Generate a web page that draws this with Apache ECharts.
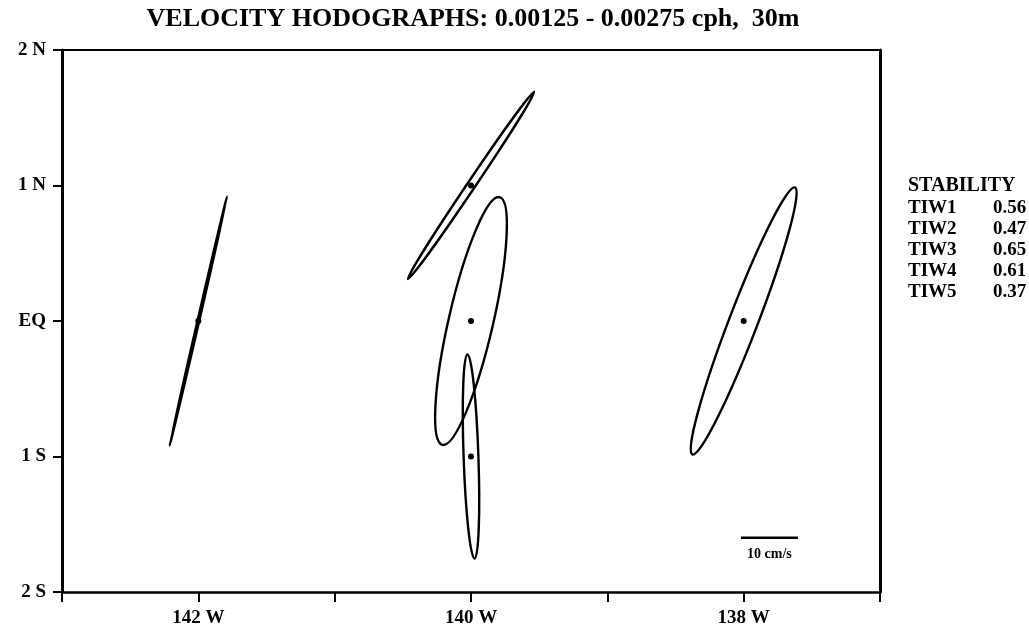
<!DOCTYPE html>
<html>
<head>
<meta charset="utf-8">
<script src="https://cdn.jsdelivr.net/npm/echarts@6/dist/echarts.min.js"></script>
<style>
  html, body { margin: 0; padding: 0; background: #fff; }
  #chart { width: 1029px; height: 629px; }
</style>
</head>
<body>
<div id="chart"></div>
<script>
// Mooring positions: longitude (negative = west) and latitude
const stationLon = [-142, -140, -140, -140, -138];
const stationLat = [0, 1, 0, -1, 0];
// Hodograph ellipses: semi-major / semi-minor axes (cm/s) and
// orientation of the major axis (degrees counter-clockwise from east)
const majorAxis = [22.5, 19.8, 22.3, 17.9, 25.1];
const minorAxis = [0.15, 0.7, 3.9, 1.3, 2.5];
const orientation = [77, 56, 77, 92, 69];

// Axis labels
const latLabels = { '2': '2 N', '1': '1 N', '0': 'EQ', '-1': '1 S', '-2': '2 S' };
const lonLabels = { '-142': '142 W', '-140': '140 W', '-138': '138 W' };

// Stability table
const tiwNames = ['TIW1', 'TIW2', 'TIW3', 'TIW4', 'TIW5'];
const stabilityValues = ['0.56', '0.47', '0.65', '0.61', '0.37'];

// Velocity scale bar
const scaleBarSpeed = 10;              // cm/s
const scaleBarAnchor = [-138.02, -1.6]; // left end of the bar (lon, lat)
const DEG_PER_CMS = 0.0418;            // plotting scale: 1 cm/s drawn as this many degrees

const FONT = 'Liberation Serif';
const chart = echarts.init(document.getElementById('chart'), null, { renderer: 'canvas' });

const axisLineStyle = { color: '#000', width: 2.5 };
const labelStyle = { color: '#000', fontFamily: FONT, fontWeight: 'bold', fontSize: 19 };

const legendFont = 'bold 19px ' + FONT;
const legendGraphics = [
  { type: 'text', x: 908, y: 186, style: { text: 'STABILITY', font: 'bold 20px ' + FONT, fill: '#000', verticalAlign: 'middle' } }
];
tiwNames.forEach((name, i) => {
  const y = 208 + i * 21;
  legendGraphics.push({ type: 'text', x: 908, y: y, style: { text: name, font: legendFont, fill: '#000', verticalAlign: 'middle' } });
  legendGraphics.push({ type: 'text', x: 993, y: y, style: { text: stabilityValues[i], font: legendFont, fill: '#000', verticalAlign: 'middle' } });
});

chart.setOption({
  animation: false,
  backgroundColor: '#fff',
  grid: { left: 62, right: 149, top: 50, bottom: 37, containLabel: false },
  graphic: [
    {
      type: 'text', x: 473, y: 19,
      style: {
        text: 'VELOCITY HODOGRAPHS: 0.00125 - 0.00275 cph,  30m',
        font: 'bold 26px ' + FONT, fill: '#000', align: 'center', verticalAlign: 'middle'
      }
    }
  ].concat(legendGraphics),
  xAxis: [
    {
      type: 'value', min: -143, max: -137, interval: 1, position: 'bottom',
      axisLine: { show: true, onZero: false, lineStyle: axisLineStyle },
      axisTick: { show: true, length: 10, lineStyle: { color: '#000', width: 2 } },
      axisLabel: Object.assign({ margin: 17, formatter: v => lonLabels[String(v)] || '' }, labelStyle),
      splitLine: { show: false }
    },
    {
      type: 'value', min: -143, max: -137, position: 'top',
      axisLine: { show: true, onZero: false, lineStyle: { color: '#000', width: 2 } },
      axisTick: { show: false }, axisLabel: { show: false }, splitLine: { show: false }
    }
  ],
  yAxis: [
    {
      type: 'value', min: -2, max: 2, interval: 1, position: 'left',
      axisLine: { show: true, onZero: false, lineStyle: { color: '#000', width: 3 } },
      axisTick: { show: true, length: 9, lineStyle: { color: '#000', width: 2 } },
      axisLabel: Object.assign({ margin: 16, formatter: v => latLabels[String(v)] || '' }, labelStyle),
      splitLine: { show: false }
    },
    {
      type: 'value', min: -2, max: 2, position: 'right',
      axisLine: { show: true, onZero: false, lineStyle: { color: '#000', width: 3 } },
      axisTick: { show: false }, axisLabel: { show: false }, splitLine: { show: false }
    }
  ],
  series: [
    {
      // velocity hodograph ellipses around each mooring
      type: 'custom',
      coordinateSystem: 'cartesian2d',
      data: stationLon.map((lon, i) => [lon, stationLat[i], majorAxis[i], minorAxis[i], orientation[i]]),
      renderItem: function (params, api) {
        const c = api.coord([api.value(0), api.value(1)]);
        const pxPerCms = api.size([DEG_PER_CMS, 0])[0];
        return {
          type: 'ellipse',
          x: c[0], y: c[1],
          rotation: api.value(4) * Math.PI / 180,
          shape: { cx: 0, cy: 0, rx: api.value(2) * pxPerCms, ry: Math.max(api.value(3) * pxPerCms, 0.6) },
          style: { fill: 'none', stroke: '#000', lineWidth: 2.4 }
        };
      },
      silent: true
    },
    {
      // mooring locations
      type: 'scatter',
      data: stationLon.map((lon, i) => [lon, stationLat[i]]),
      symbol: 'circle', symbolSize: 6,
      itemStyle: { color: '#000', opacity: 1 },
      silent: true
    },
    {
      // velocity scale bar
      type: 'custom',
      coordinateSystem: 'cartesian2d',
      data: [[scaleBarAnchor[0], scaleBarAnchor[1], scaleBarSpeed]],
      renderItem: function (params, api) {
        const c = api.coord([api.value(0), api.value(1)]);
        const len = api.size([api.value(2) * DEG_PER_CMS, 0])[0];
        return {
          type: 'group',
          children: [
            { type: 'line', shape: { x1: c[0], y1: c[1], x2: c[0] + len, y2: c[1] },
              style: { stroke: '#000', lineWidth: 2.5 } },
            { type: 'text', x: c[0] + len / 2, y: c[1] + 17,
              style: { text: api.value(2) + ' cm/s', font: 'bold 14px ' + FONT, fill: '#000',
                       align: 'center', verticalAlign: 'middle' } }
          ]
        };
      },
      silent: true
    }
  ]
});
</script>
</body>
</html>
